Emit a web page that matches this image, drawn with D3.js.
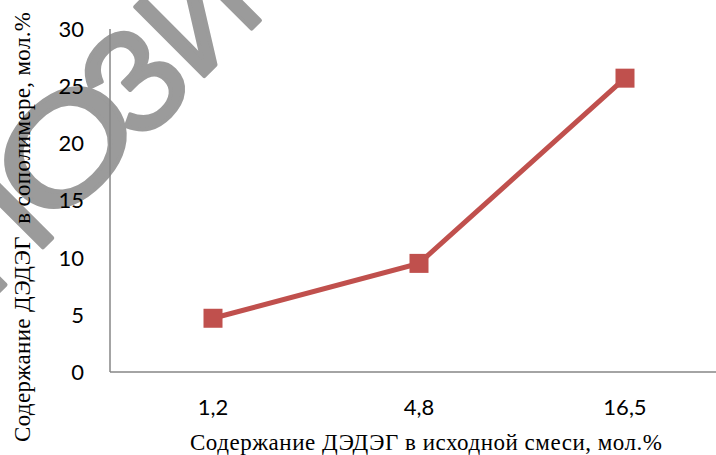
<!DOCTYPE html>
<meta charset="utf-8">
<style>
body { margin: 0; background: #fff; }
.tick-label { font-family: Lato, "Open Sans", sans-serif; font-size: 22px; fill: #000; }
.axis-title { font-family: "Liberation Serif", "Times New Roman", serif; font-size: 23px; fill: #000; }
.watermark { font-family: "Liberation Sans", Arial, sans-serif; font-size: 142px;
  fill: #9b9b9b; stroke: #9b9b9b; stroke-width: 4px; stroke-linejoin: round; }
</style>
<body>
<script src="https://d3js.org/d3.v7.min.js"></script>
<script>

// data
var categories = ["1,2", "4,8", "16,5"];
var values = [4.7, 9.5, 25.7];
var yTicks = [0, 5, 10, 15, 20, 25, 30];

var width = 716, height = 455;
var plot = {left: 110, right: 728, top: 29, bottom: 372};

var svg = d3.select("body").append("svg")
    .attr("width", width)
    .attr("height", height);

// diagonal watermark letters, drawn first so the chart sits on top
var wmLetters = [
  {ch: "П", cx: -12, cy: 230, sx: 1},
  {ch: "О", cx: 64, cy: 146, sx: 1.3},
  {ch: "З", cx: 133, cy: 79, sx: 1},
  {ch: "И", cx: 196, cy: 12, sx: 1}
];
svg.selectAll(".watermark")
    .data(wmLetters)
  .enter().append("text")
    .attr("class", "watermark")
    .attr("text-anchor", "middle")
    .attr("transform", function(d) {
      return "translate(" + d.cx + "," + d.cy + ") rotate(-45) scale(" + d.sx + ",1)";
    })
    .attr("y", "0.36em")
    .text(function(d) { return d.ch; });

var x = d3.scaleBand().domain(categories).range([plot.left, plot.right]);
var y = d3.scaleLinear().domain([0, 30]).range([plot.bottom, plot.top]);

// y tick labels
svg.selectAll(".ytick")
    .data(yTicks)
  .enter().append("text")
    .attr("class", "tick-label")
    .attr("x", 84)
    .attr("y", function(d) { return y(d); })
    .attr("dy", "0.36em")
    .attr("text-anchor", "end")
    .text(function(d) { return d; });

// x tick labels
svg.selectAll(".xtick")
    .data(categories)
  .enter().append("text")
    .attr("class", "tick-label")
    .attr("x", function(d) { return x(d) + x.bandwidth() / 2; })
    .attr("y", 415)
    .attr("text-anchor", "middle")
    .text(function(d) { return d; });

// axes lines
svg.append("line")
    .attr("x1", plot.left).attr("x2", plot.left)
    .attr("y1", y(30)).attr("y2", y(0))
    .attr("stroke", "#868686").attr("stroke-width", 1.5);
svg.append("line")
    .attr("x1", plot.left).attr("x2", plot.right)
    .attr("y1", y(0)).attr("y2", y(0))
    .attr("stroke", "#868686").attr("stroke-width", 1.5);

// series
var pts = categories.map(function(c, i) { return {cat: c, val: values[i]}; });
var line = d3.line()
    .x(function(d) { return x(d.cat) + x.bandwidth() / 2; })
    .y(function(d) { return y(d.val); });

svg.append("path")
    .datum(pts)
    .attr("fill", "none")
    .attr("stroke", "#C0504D")
    .attr("stroke-width", 5)
    .attr("d", line);

var s = 19;
svg.selectAll(".marker")
    .data(pts)
  .enter().append("rect")
    .attr("x", function(d) { return x(d.cat) + x.bandwidth() / 2 - s / 2; })
    .attr("y", function(d) { return y(d.val) - s / 2; })
    .attr("width", s).attr("height", s)
    .attr("fill", "#C0504D");

// axis titles
svg.append("text")
    .attr("class", "axis-title")
    .attr("x", 426).attr("y", 450)
    .attr("text-anchor", "middle")
    .attr("textLength", 472)
    .text("Содержание ДЭДЭГ в исходной смеси, мол.%");

svg.append("text")
    .attr("class", "axis-title")
    .attr("transform", "translate(30,227) rotate(-90)")
    .attr("text-anchor", "middle")
    .attr("textLength", 430)
    .style("white-space", "pre")
    .text("Содержание ДЭДЭГ  в сополимере, мол.%");

</script>
</body>
